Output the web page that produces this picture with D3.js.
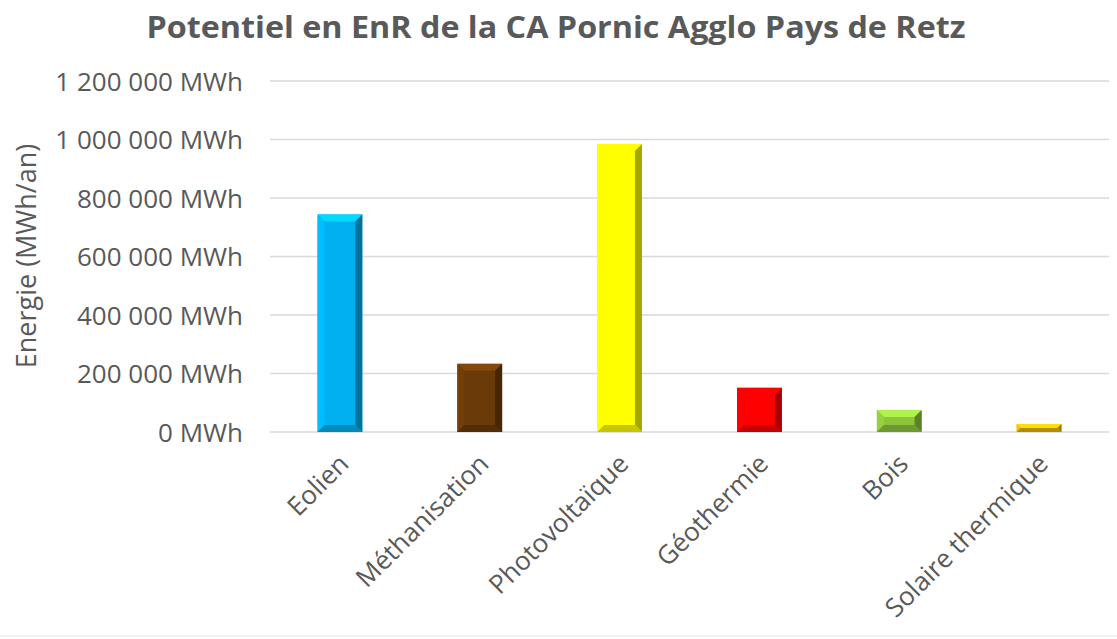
<!DOCTYPE html>
<html>
<head>
<meta charset="utf-8">
<script src="https://cdn.jsdelivr.net/npm/d3@7"></script>
<style>
  body { margin: 0; background: #fff; }
  text { font-family: "Open Sans", "Liberation Sans", sans-serif; fill: #595959; }
  .grid line { stroke: #d9d9d9; stroke-width: 1.3; }
</style>
</head>
<body>
<svg width="1117" height="639"></svg>
<script>
const categories = ["Eolien", "Méthanisation", "Photovoltaïque", "Géothermie", "Bois", "Solaire thermique"];
const values = [744000, 233000, 985000, 151000, 75000, 27000];
const colors = ["#00b0f0", "#6a3a08", "#ffff00", "#ff0000", "#8cc43c", "#e8b400"];
const yTicks = [0, 200000, 400000, 600000, 800000, 1000000, 1200000];

const svg = d3.select("svg");
const margin = { top: 81, right: 8, bottom: 207, left: 270 };
const width = 1117, height = 639;

const x = d3.scaleBand()
  .domain(categories)
  .range([margin.left, width - margin.right])
  .paddingInner(0.68)
  .paddingOuter(0.34);

const y = d3.scaleLinear()
  .domain([0, 1200000])
  .range([height - margin.bottom, margin.top]);

const fmt = d => d3.format(",")(d).replace(/,/g, " ") + " MWh";

// TITLE
svg.append("text")
  .attr("x", 556)
  .attr("y", 38)
  .attr("text-anchor", "middle")
  .attr("font-size", 31)
  .attr("font-weight", "bold")
  .attr("textLength", 819)
  .attr("lengthAdjust", "spacingAndGlyphs")
  .text("Potentiel en EnR de la CA Pornic Agglo Pays de Retz");

// GRID
svg.append("g")
  .attr("class", "grid")
  .selectAll("line")
  .data(yTicks)
  .join("line")
  .attr("x1", margin.left)
  .attr("x2", width - margin.right)
  .attr("y1", d => y(d))
  .attr("y2", d => y(d));

// Y AXIS
const yAxis = svg.append("g")
  .attr("transform", `translate(${margin.left - 27},0)`)
  .call(d3.axisLeft(y).tickValues(yTicks).tickFormat(fmt).tickSize(0).tickPadding(0));
yAxis.select(".domain").remove();
yAxis.selectAll("text")
  .attr("font-size", 26)
  .attr("dy", "0.35em");

svg.append("text")
  .attr("transform", `translate(36,256) rotate(-90)`)
  .attr("text-anchor", "middle")
  .attr("font-size", 27)
  .text("Energie (MWh/an)");

// BARS with bevel
const bev = 7;
const bar = svg.append("g")
  .selectAll("g")
  .data(categories.map((c, i) => ({ c, v: values[i], col: colors[i] })))
  .join("g");

bar.each(function(d) {
  const g = d3.select(this);
  const x0 = x(d.c), x1 = x0 + x.bandwidth();
  const y0 = y(d.v), y1 = y(0);
  const b = Math.min(bev, (y1 - y0) / 2);
  const base = d3.color(d.col);
  g.append("rect")
    .attr("x", x0).attr("y", y0)
    .attr("width", x1 - x0).attr("height", y1 - y0)
    .attr("fill", base);
  const pts = {
    top: [[x0, y0], [x1, y0], [x1 - b, y0 + b], [x0 + b, y0 + b]],
    left: [[x0, y0], [x0 + b, y0 + b], [x0 + b, y1 - b], [x0, y1]],
    right: [[x1, y0], [x1, y1], [x1 - b, y1 - b], [x1 - b, y0 + b]],
    bottom: [[x0, y1], [x0 + b, y1 - b], [x1 - b, y1 - b], [x1, y1]]
  };
  const shades = {
    top: base.brighter(0.6),
    left: base.brighter(0.2),
    right: base.darker(1.2),
    bottom: base.darker(0.7)
  };
  Object.keys(pts).forEach(k => {
    g.append("polygon")
      .attr("points", pts[k].map(p => p.join(",")).join(" "))
      .attr("fill", shades[k]);
  });
});

// X LABELS
svg.append("g")
  .selectAll("text")
  .data(categories)
  .join("text")
  .attr("transform", d => `translate(${x(d) + x.bandwidth() / 2 + 4},${y(0) + 27}) rotate(-45)`)
  .attr("text-anchor", "end")
  .attr("font-size", 26)
  .attr("dy", "0.35em")
  .text(d => d);

// frame bottom line
svg.append("line")
  .attr("x1", 0).attr("x2", width)
  .attr("y1", 636).attr("y2", 636)
  .attr("stroke", "#e6e6e6");
</script>
</body>
</html>
